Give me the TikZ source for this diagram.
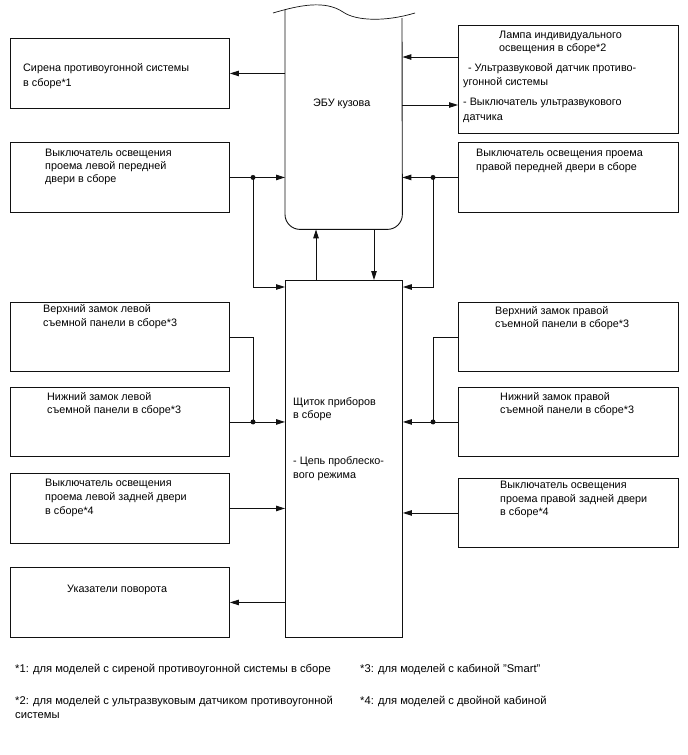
\documentclass[tikz,border=0pt]{standalone}
\usepackage{fontspec}
\setmainfont{Liberation Sans}
\usepackage{tikz}
\usetikzlibrary{arrows.meta}
\definecolor{wireblack}{HTML}{111111}

\begin{document}
\begin{tikzpicture}[x=1pt,y=-1pt,font=\fontsize{10.8}{13}\selectfont,
  blk/.style={draw=wireblack,line width=0.9pt,minimum width=219,minimum height=70,anchor=north west,inner sep=0},
  lbl/.style={anchor=north west,align=left,inner sep=0},
  wire/.style={wireblack,line width=0.9pt},
  arr/.style={wire,-{Triangle[length=9pt,width=5.5pt]}}]
  \useasboundingbox (0,0) rectangle (688,755);
  % left column
  \node[blk] (siren) at (10,38) {};
  \node[blk] (lfdoor) at (10,142) {};
  \node[blk,minimum height=69] (lupper) at (10,302) {};
  \node[blk,minimum height=69] (llower) at (10,387) {};
  \node[blk] (lrdoor) at (10,473) {};
  \node[blk] (turn) at (10,567) {};
  % right column
  \node[blk,minimum width=220,minimum height=108] (lamp) at (458,25) {};
  \node[blk,minimum width=220] (rfdoor) at (458,142) {};
  \node[blk,minimum width=220,minimum height=69] (rupper) at (458,302) {};
  \node[blk,minimum width=220,minimum height=69] (rlower) at (458,387) {};
  \node[blk,minimum width=220,minimum height=69] (rrdoor) at (458,478) {};
  % centre: body ECU (torn top) and meter
  \node[anchor=north west,minimum width=117,minimum height=219,inner sep=0] (ecu) at (285,10) {};
  \draw[wire,rounded corners=15] (ecu.north west) -- (ecu.south west) -- (ecu.south east) -- (402,18);
  \draw[wire,line width=0.7pt] (273,13) .. controls (300,5) and (325,0) .. (343,12)
    .. controls (356,21) and (385,22) .. (415,13);
  \node[blk,minimum width=117,minimum height=357] (meter) at (285,280) {};

  % texts
  \node[lbl,font=\fontsize{10.8}{15}\selectfont] (tsiren) at (23,63) {Сирена противоугонной системы\\в сборе*1};
  \node[lbl] (tlfdoor) at (45,149) {Выключатель освещения\\проема левой передней\\двери в сборе};
  \node[lbl,font=\fontsize{10.8}{14.5}\selectfont] (tlupper) at (43,304) {Верхний замок левой\\съемной панели в сборе*3};
  \node[lbl] (tllower) at (47,392) {Нижний замок левой\\съемной панели в сборе*3};
  \node[lbl,font=\fontsize{10.8}{14}\selectfont] (tlrdoor) at (45,479) {Выключатель освещения\\проема левой задней двери\\в сборе*4};
  \node[lbl] (tturn) at (67,585) {Указатели поворота};
  \node[lbl,font=\fontsize{10.8}{12.5}\selectfont] (tlamp) at (499,31) {Лампа индивидуального\\освещения в сборе*2};
  \node[lbl,font=\fontsize{10.8}{14}\selectfont] (tsensor) at (463,63) {\ \,- Ультразвуковой датчик противо-\\угонной системы};
  \node[lbl,font=\fontsize{10.8}{15}\selectfont] (tsensw) at (463,98) {- Выключатель ультразвукового\\датчика};
  \node[lbl,font=\fontsize{10.8}{14}\selectfont] (trfdoor) at (476,149) {Выключатель освещения проема\\правой передней двери в сборе};
  \node[lbl] (trupper) at (495,306) {Верхний замок правой\\съемной панели в сборе*3};
  \node[lbl] (trlower) at (500,392) {Нижний замок правой\\съемной панели в сборе*3};
  \node[lbl,font=\fontsize{10.8}{13.5}\selectfont] (trrdoor) at (500,481) {Выключатель освещения\\проема правой задней двери\\в сборе*4};
  \node[lbl] (tecu) at (313,99) {ЭБУ кузова};
  \node[lbl] (tmeter) at (293,397) {Щиток приборов\\в сборе};
  \node[lbl,font=\fontsize{10.8}{14}\selectfont] (tflash) at (293,456) {- Цепь проблеско-\\вого режима};

  % junctions
  \coordinate (jlf) at (lfdoor.east -| 253,0);
  \coordinate (jll) at (llower.east -| 253,0);
  \coordinate (jrf) at (rfdoor.west -| 433,0);
  \coordinate (jrl) at (rlower.west -| 433,0);
  \coordinate (lampin) at (458,57);
  \coordinate (lampout) at (458,105);

  % ECU links
  \draw[arr] (siren.east -| ecu.west) -- (siren.east);
  \draw[arr] (lfdoor.east) -- (lfdoor.east -| ecu.west);
  \draw[arr] (lampin) -- (lampin -| ecu.east);
  \draw[arr] (lampout -| ecu.east) -- (lampout);
  \draw[arr] (rfdoor.west) -- (rfdoor.west -| ecu.east);
  \draw[arr] (meter.north -| 316,0) -- (ecu.south -| 316,0);
  \draw[arr] (ecu.south -| 374,0) -- (meter.north -| 374,0);
  % meter links
  \draw[arr] (jlf) |- (meter.west |- 0,287);
  \draw[arr] (jrf) |- (meter.east |- 0,287);
  \draw[wire] (lupper.east) -| (jll);
  \draw[wire] (rupper.west) -| (jrl);
  \draw[arr] (llower.east) -- (llower.east -| meter.west);
  \draw[arr] (rlower.west) -- (rlower.west -| meter.east);
  \draw[arr] (lrdoor.east) -- (lrdoor.east -| meter.west);
  \draw[arr] (rrdoor.west) -- (rrdoor.west -| meter.east);
  \draw[arr] (turn.east -| meter.west) -- (turn.east);
  \foreach \j in {jlf,jll,jrf,jrl} \fill[wireblack] (\j) circle (2.5);

  % footnotes
  \node[lbl,font=\fontsize{11.2}{14}\selectfont] (note1) at (15,664) {*1: для моделей с сиреной противоугонной системы в сборе};
  \node[lbl,font=\fontsize{11.2}{14}\selectfont] (note2) at (15,696) {*2: для моделей с ультразвуковым датчиком противоугонной\\системы};
  \node[lbl,font=\fontsize{11.2}{14}\selectfont] (note3) at (360,664) {*3: для моделей с кабиной "Smart"};
  \node[lbl,font=\fontsize{11.2}{14}\selectfont] (note4) at (360,696) {*4: для моделей с двойной кабиной};
\end{tikzpicture}
\end{document}
